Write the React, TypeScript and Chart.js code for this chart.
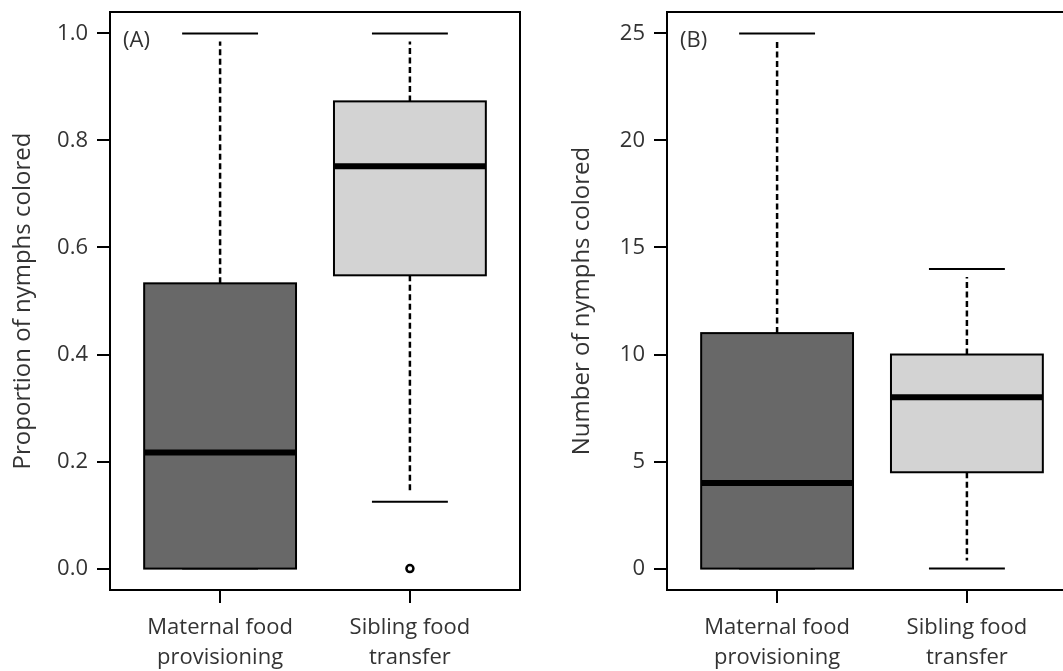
import React, { useEffect, useRef } from "react";
import { Chart, registerables } from "chart.js";

Chart.register(...registerables);

// ---- shared ----
const categories = [["Maternal food", "provisioning"], ["Sibling food", "transfer"]];
const categoryPositions = [1, 2];
const boxColors = ["#686868", "#d3d3d3"];

// ---- Panel A: proportion of nymphs colored ----
const propLowerWhisker = [0, 0.125];
const propQ1 = [0, 0.548];
const propMedian = [0.217, 0.752];
const propQ3 = [0.533, 0.873];
const propUpperWhisker = [1.0, 1.0];
const propOutlierGroup = [2];
const propOutlierValue = [0];
const propTicks = [0, 0.2, 0.4, 0.6, 0.8, 1.0];

// ---- Panel B: number of nymphs colored ----
const numLowerWhisker = [0, 0];
const numQ1 = [0, 4.5];
const numMedian = [4, 8];
const numQ3 = [11, 10];
const numUpperWhisker = [25, 14];
const numOutlierGroup: number[] = [];
const numOutlierValue: number[] = [];
const numTicks = [0, 5, 10, 15, 20, 25];

const FONT = "'Open Sans', 'Noto Sans', sans-serif";
const FS = 22;
const TFS = 24;

const boxPlugin = {
  id: "boxes",
  beforeDatasetsDraw(chart: any, _args: any, opts: any) {
    const { ctx, scales } = chart;
    const x = scales.x;
    const y = scales.y;
    const s = opts.stats;
    ctx.save();
    for (let i = 0; i < categoryPositions.length; i++) {
      const g = categoryPositions[i];
      const xl = x.getPixelForValue(g - 0.4);
      const xr = x.getPixelForValue(g + 0.4);
      const xc = x.getPixelForValue(g);
      const sl = x.getPixelForValue(g - 0.2);
      const sr = x.getPixelForValue(g + 0.2);
      const yq1 = y.getPixelForValue(s.q1[i]);
      const yq3 = y.getPixelForValue(s.q3[i]);
      const ymed = y.getPixelForValue(s.median[i]);
      const ylo = y.getPixelForValue(s.lower[i]);
      const yhi = y.getPixelForValue(s.upper[i]);
      // whiskers (dashed)
      ctx.strokeStyle = "#000";
      ctx.lineWidth = 2.5;
      ctx.setLineDash([6, 3.5]);
      if (s.upper[i] > s.q3[i]) {
        ctx.beginPath();
        ctx.moveTo(xc, yq3);
        ctx.lineTo(xc, yhi + 8);
        ctx.stroke();
      }
      if (s.lower[i] < s.q1[i]) {
        ctx.beginPath();
        ctx.moveTo(xc, yq1);
        ctx.lineTo(xc, ylo - 8);
        ctx.stroke();
      }
      ctx.setLineDash([]);
      // staples
      ctx.lineWidth = 2;
      ctx.beginPath();
      ctx.moveTo(sl, yhi);
      ctx.lineTo(sr, yhi);
      ctx.moveTo(sl, ylo);
      ctx.lineTo(sr, ylo);
      ctx.stroke();
      // box
      ctx.fillStyle = boxColors[i];
      ctx.fillRect(xl, yq3, xr - xl, yq1 - yq3);
      ctx.lineWidth = 2;
      ctx.strokeRect(xl, yq3, xr - xl, yq1 - yq3);
      // median
      ctx.lineWidth = 6;
      ctx.beginPath();
      ctx.moveTo(xl, ymed);
      ctx.lineTo(xr, ymed);
      ctx.stroke();
    }
    ctx.restore();
  },
  afterDraw(chart: any, _args: any, opts: any) {
    const { ctx, chartArea } = chart;
    ctx.save();
    ctx.strokeStyle = "#000";
    ctx.lineWidth = 2;
    ctx.strokeRect(chartArea.left, chartArea.top, chartArea.right - chartArea.left, chartArea.bottom - chartArea.top);
    ctx.fillStyle = "#333";
    ctx.font = `${FS}px ${FONT}`;
    ctx.textAlign = "left";
    ctx.textBaseline = "middle";
    ctx.fillText(opts.panel, chartArea.left + 13, chartArea.top + 29);
    ctx.restore();
  },
};

function makeConfig(
  stats: any,
  outGroup: number[],
  outValue: number[],
  ticks: number[],
  yMin: number,
  yMax: number,
  fmt: (v: number) => string,
  title: string,
  panel: string,
  titlePad: number
): any {
  return {
    type: "scatter",
    data: {
      datasets: [
        {
          data: outGroup.map((g, i) => ({ x: g, y: outValue[i] })),
          pointRadius: 3.5,
          pointBorderWidth: 2.5,
          borderColor: "#000",
          backgroundColor: "#fff",
        },
      ],
    },
    plugins: [boxPlugin],
    options: {
      responsive: false,
      animation: false,
      events: [],
      layout: { padding: { top: 12, right: 20, left: 0, bottom: 0 } },
      plugins: {
        legend: { display: false },
        tooltip: { enabled: false },
        boxes: { stats, panel },
      },
      scales: {
        x: {
          type: "linear",
          min: 0.42,
          max: 2.58,
          border: { display: false },
          grid: { drawOnChartArea: false, drawTicks: true, tickLength: 13, color: "#000", lineWidth: 2 },
          afterBuildTicks: (scale: any) => {
            scale.ticks = categoryPositions.map((v) => ({ value: v }));
          },
          afterFit: (scale: any) => {
            scale.height = 81;
            scale.paddingLeft = 0;
            scale.paddingRight = 0;
          },
          ticks: {
            autoSkip: false,
            maxRotation: 0,
            minRotation: 0,
            padding: 10,
            color: "#333",
            font: { family: FONT, size: FS, lineHeight: 1.35 },
            callback: (_v: any, i: number) => categories[i],
          },
        },
        y: {
          type: "linear",
          min: yMin,
          max: yMax,
          border: { display: false },
          grid: { drawOnChartArea: false, drawTicks: true, tickLength: 13, color: "#000", lineWidth: 2 },
          afterBuildTicks: (scale: any) => {
            scale.ticks = ticks.map((v) => ({ value: v }));
          },
          afterFit: (scale: any) => {
            scale.width = 110;
            scale.paddingTop = 0;
            scale.paddingBottom = 0;
          },
          ticks: {
            padding: 9,
            color: "#333",
            font: { family: FONT, size: FS },
            callback: (v: any) => fmt(Number(v)),
          },
          title: {
            display: true,
            text: title,
            color: "#333",
            font: { family: FONT, size: TFS },
            padding: { top: titlePad, bottom: 0 },
          },
        },
      },
    },
  };
}

export default function App() {
  const aRef = useRef<HTMLCanvasElement>(null);
  const bRef = useRef<HTMLCanvasElement>(null);

  useEffect(() => {
    const statsA = {
      lower: propLowerWhisker,
      q1: propQ1,
      median: propMedian,
      q3: propQ3,
      upper: propUpperWhisker,
    };
    const statsB = {
      lower: numLowerWhisker,
      q1: numQ1,
      median: numMedian,
      q3: numQ3,
      upper: numUpperWhisker,
    };
    const a = new Chart(
      aRef.current as HTMLCanvasElement,
      makeConfig(statsA, propOutlierGroup, propOutlierValue, propTicks, -0.04, 1.04, (v) => v.toFixed(1), "Proportion of nymphs colored", "(A)", 9)
    );
    const b = new Chart(
      bRef.current as HTMLCanvasElement,
      makeConfig(statsB, numOutlierGroup, numOutlierValue, numTicks, -1, 26, (v) => String(Math.round(v)), "Number of nymphs colored", "(B)", 11)
    );
    return () => {
      a.destroy();
      b.destroy();
    };
  }, []);

  return (
    <div style={{ position: "fixed", left: 0, top: 0, width: 1063, height: 671, overflow: "hidden", background: "#fff" }}>
      <div style={{ position: "absolute", left: 0, top: 0, width: 540, height: 671 }}>
        <canvas ref={aRef} width={540} height={671} />
      </div>
      <div style={{ position: "absolute", left: 557, top: 0, width: 540, height: 671 }}>
        <canvas ref={bRef} width={540} height={671} />
      </div>
    </div>
  );
}
